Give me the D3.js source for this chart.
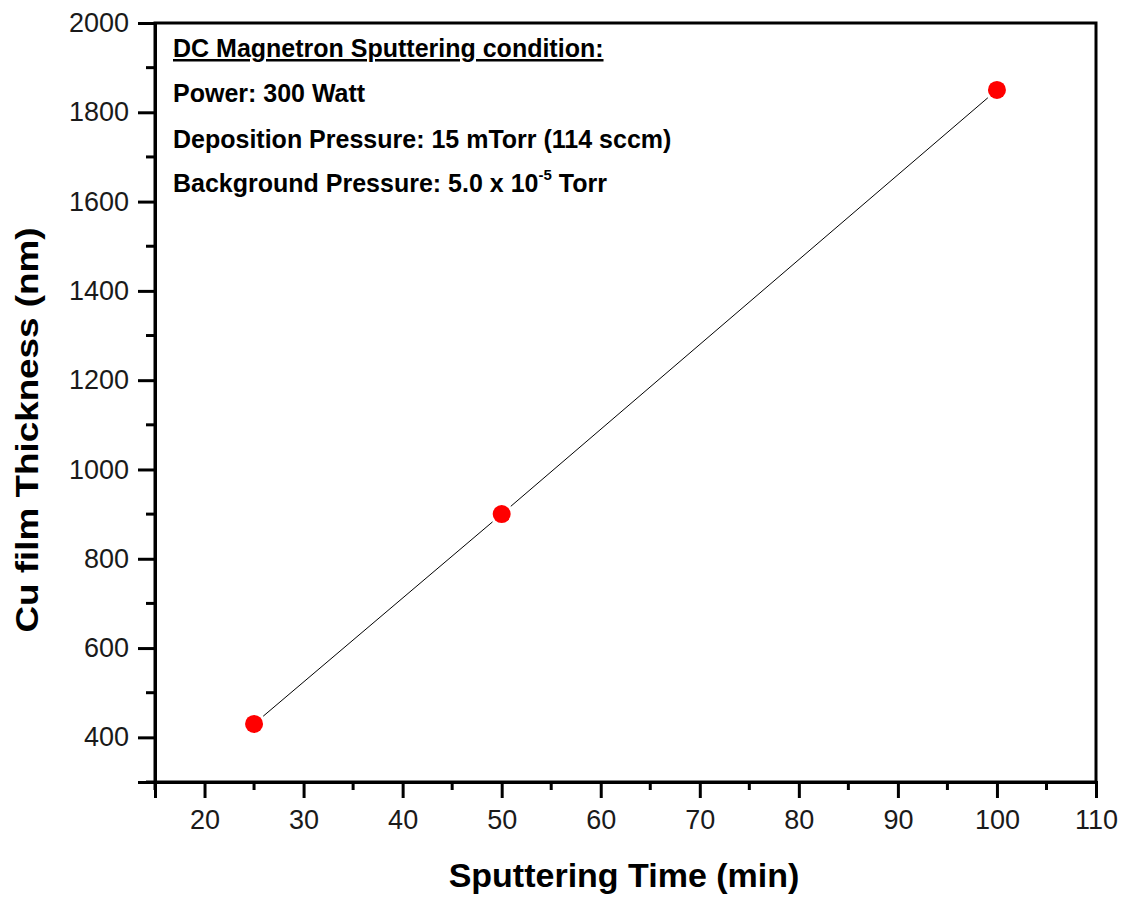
<!DOCTYPE html>
<html>
<head>
<meta charset="utf-8">
<script src="https://cdn.jsdelivr.net/npm/d3@7/dist/d3.min.js"></script>
<style>
  html, body { margin: 0; padding: 0; background: #fff; }
  svg { display: block; font-family: Arial, "Liberation Sans", sans-serif; }
</style>
</head>
<body>
<div id="chart"></div>
<script>
// Sputtering time (min) vs deposited Cu film thickness (nm)
const times = [25, 50, 100];
const thickness = [430, 900, 1850];

const xTicks = [20, 30, 40, 50, 60, 70, 80, 90, 100, 110];
const yTicks = [400, 600, 800, 1000, 1200, 1400, 1600, 1800, 2000];

const xTitle = "Sputtering Time (min)";
const yTitle = "Cu film Thickness (nm)";

const notes = [
  "DC Magnetron Sputtering condition:",
  "Power: 300 Watt",
  "Deposition Pressure: 15 mTorr (114 sccm)",
  "Background Pressure: 5.0 x 10"
];

const W = 1127, H = 899;
const m = { left: 155, right: 1096, top: 23, bottom: 782 };

const svg = d3.select("#chart").append("svg")
  .attr("width", W).attr("height", H);

const x = d3.scaleLinear().domain([15, 110]).range([m.left, m.right]);
const y = d3.scaleLinear().domain([300, 2000]).range([m.bottom, m.top]);

// frame (top and right edges, no ticks)
svg.append("rect")
  .attr("x", m.left).attr("y", m.top)
  .attr("width", m.right - m.left).attr("height", m.bottom - m.top)
  .attr("fill", "none").attr("stroke", "#000").attr("stroke-width", 3);

// bottom axis: major + minor ticks
const xAxis = d3.axisBottom(x).tickValues(xTicks).tickSize(16).tickPadding(12).tickFormat(d3.format("d"));
const gx = svg.append("g").attr("transform", `translate(0,${m.bottom})`).call(xAxis);
const xMinor = d3.range(15, 110, 10);
gx.selectAll(".minor").data(xMinor).enter().append("line")
  .attr("class", "minor")
  .attr("x1", d => x(d)).attr("x2", d => x(d))
  .attr("y1", 0).attr("y2", 8);

// left axis: major + minor ticks
const yAxis = d3.axisLeft(y).tickValues(yTicks).tickSize(17).tickPadding(9).tickFormat(d3.format("d"));
const gy = svg.append("g").attr("transform", `translate(${m.left},0)`).call(yAxis);
const yMinor = d3.range(300, 2000, 200);
gy.selectAll(".minor").data(yMinor).enter().append("line")
  .attr("class", "minor")
  .attr("y1", d => y(d)).attr("y2", d => y(d))
  .attr("x1", 0).attr("x2", -9);

[gx, gy].forEach(g => {
  g.select(".domain").attr("stroke", "#000").attr("stroke-width", 3);
  g.selectAll("line").attr("stroke", "#000").attr("stroke-width", 3);
  g.selectAll("text").attr("font-size", 27).attr("fill", "#1a1a1a")
    .attr("font-family", "Arial, 'Liberation Sans', sans-serif");
});

// axis titles
svg.append("text")
  .attr("x", 624).attr("y", 887)
  .attr("text-anchor", "middle").attr("font-size", 34).attr("font-weight", "bold")
  .text(xTitle);

svg.append("text")
  .attr("transform", `translate(38,430) rotate(-90)`)
  .attr("text-anchor", "middle").attr("font-size", 32).attr("font-weight", "bold")
  .attr("textLength", 405).attr("lengthAdjust", "spacingAndGlyphs")
  .text(yTitle);

// connecting line, broken around each marker
const pts = times.map((t, i) => [x(t), y(thickness[i])]);
const gap = 12;
const segs = d3.pairs(pts).map(([a, b]) => {
  const dx = b[0] - a[0], dy = b[1] - a[1];
  const len = Math.hypot(dx, dy);
  const ux = dx / len, uy = dy / len;
  return [[a[0] + ux * gap, a[1] + uy * gap], [b[0] - ux * gap, b[1] - uy * gap]];
});
svg.append("g").selectAll("line").data(segs).enter().append("line")
  .attr("x1", d => d[0][0]).attr("y1", d => d[0][1])
  .attr("x2", d => d[1][0]).attr("y2", d => d[1][1])
  .attr("stroke", "#000").attr("stroke-width", 1);

// markers
svg.append("g").selectAll("circle").data(times).enter().append("circle")
  .attr("cx", d => x(d)).attr("cy", (d, i) => y(thickness[i]))
  .attr("r", 9).attr("fill", "#ff0000");

// deposition conditions
const note = svg.append("g").attr("font-size", 25).attr("font-weight", "bold");
const baselines = [57, 102, 148, 192];
notes.forEach((s, i) => {
  const t = note.append("text").attr("x", 173).attr("y", baselines[i]).text(s);
  if (i === 0) t.attr("text-decoration", "underline");
  if (i === 3) {
    t.append("tspan").attr("font-size", 15).attr("dy", -12).text("-5");
    t.append("tspan").attr("dy", 12).text(" Torr");
  }
});
</script>
</body>
</html>
